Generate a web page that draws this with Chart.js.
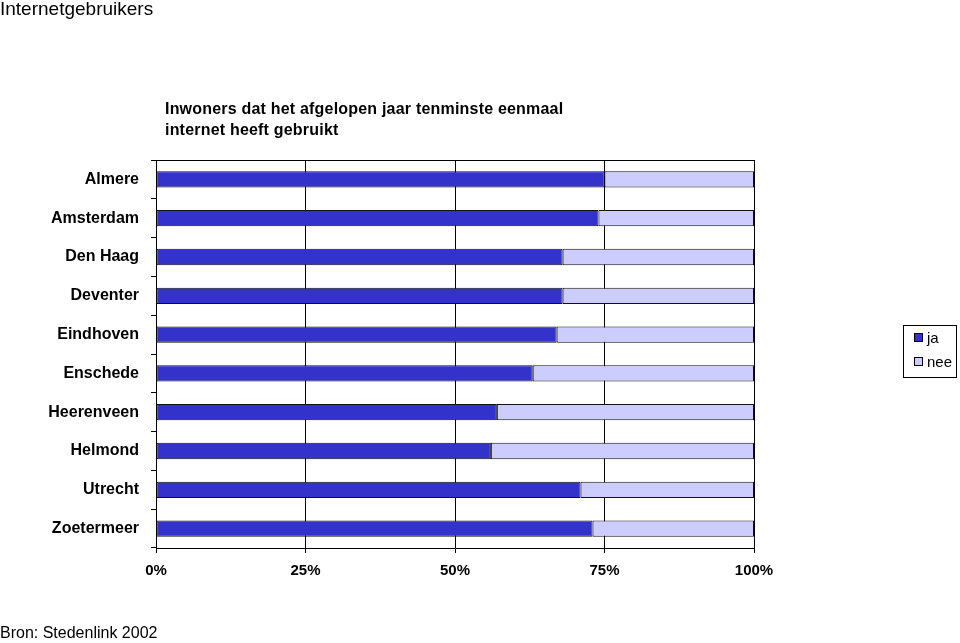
<!DOCTYPE html>
<html>
<head>
<meta charset="utf-8">
<script src="https://cdn.jsdelivr.net/npm/chart.js@4/dist/chart.umd.min.js"></script>
<style>
  html, body { margin: 0; padding: 0; background: #fff; }
  body { width: 960px; height: 643px; position: relative; overflow: hidden; font-family: "Liberation Sans", Arial, sans-serif; }
  #wrap { position: absolute; left: 0; top: 0; width: 960px; height: 643px; }
  .txt { position: absolute; color: #000; white-space: nowrap; }
  #pageTitle { left: 0; top: -2px; font-size: 19px; }
  #chartTitle { left: 165px; top: 98px; font-size: 16px; font-weight: bold; line-height: 21px; letter-spacing: 0.2px; }
  #source { left: 0; top: 624px; font-size: 16px; }
  #legend { position: absolute; left: 903px; top: 325px; width: 52px; height: 51px; border: 1px solid #000; font-size: 15px; }
  .li { position: absolute; left: 10px; height: 18px; line-height: 18px; }
  .sw { display: inline-block; width: 7px; height: 7px; border: 1px solid #000; margin-right: 4px; vertical-align: 1px; }
</style>
</head>
<body>
<div id="wrap"><canvas id="c" width="960" height="643"></canvas></div>
<div class="txt" id="pageTitle">Internetgebruikers</div>
<div class="txt" id="chartTitle">Inwoners dat het afgelopen jaar tenminste eenmaal<br>internet heeft gebruikt</div>
<div class="txt" id="source">Bron: Stedenlink 2002</div>
<div id="legend"></div>
<script>
const categories = ["Almere", "Amsterdam", "Den Haag", "Deventer", "Eindhoven", "Enschede", "Heerenveen", "Helmond", "Utrecht", "Zoetermeer"];
const jaValues  = [75, 74, 68, 68, 67, 63, 57, 56, 71, 73];
const neeValues = [25, 26, 32, 32, 33, 37, 43, 44, 29, 27];
const seriesNames = ["ja", "nee"];
const seriesColors = ["#3333CC", "#CCCCFF"];
const xTicks = [0, 25, 50, 75, 100];

const legendEl = document.getElementById('legend');
seriesNames.forEach((n, i) => {
  const d = document.createElement('div');
  d.className = 'li';
  d.style.top = (i === 0 ? 3 : 27) + 'px';
  d.innerHTML = '<span class="sw" style="background:' + seriesColors[i] + '"></span>' + n;
  legendEl.appendChild(d);
});

const topLine = {
  id: 'topLine',
  afterDraw(chart) {
    const a = chart.chartArea, ctx = chart.ctx;
    ctx.save();
    ctx.strokeStyle = '#000';
    ctx.lineWidth = 1;
    ctx.beginPath();
    ctx.moveTo(a.left, Math.round(a.top) + 0.5);
    ctx.lineTo(a.right + 0.5, Math.round(a.top) + 0.5);
    ctx.stroke();
    ctx.restore();
  }
};

new Chart(document.getElementById('c'), {
  type: 'bar',
  data: {
    labels: categories,
    datasets: [
      { label: seriesNames[0], data: jaValues, backgroundColor: seriesColors[0], borderColor: '#111', borderWidth: 1, borderSkipped: false, barPercentage: 0.42, categoryPercentage: 1 },
      { label: seriesNames[1], data: neeValues, backgroundColor: seriesColors[1], borderColor: '#111', borderWidth: 1, borderSkipped: false, barPercentage: 0.42, categoryPercentage: 1 }
    ]
  },
  options: {
    indexAxis: 'y',
    responsive: false,
    animation: false,
    layout: { padding: { left: 0, top: 160, right: 206, bottom: 0 } },
    plugins: { legend: { display: false }, title: { display: false }, tooltip: { enabled: false } },
    scales: {
      x: {
        stacked: true,
        min: 0, max: 100,
        afterBuildTicks(scale) { scale.ticks = xTicks.map(v => ({ value: v })); },
        afterFit(scale) { scale.height = 95; },
        ticks: { callback: v => v + '%', color: '#000', font: { family: 'Liberation Sans', size: 15, weight: 'bold' }, padding: 9, maxRotation: 0 },
        grid: { color: '#000', lineWidth: 1, drawTicks: true, tickLength: 5 },
        border: { display: true, color: '#000', width: 1 }
      },
      y: {
        stacked: true,
        offset: true,
        afterFit(scale) { scale.width = 156; },
        ticks: { color: '#000', font: { family: 'Liberation Sans', size: 16, weight: 'bold' }, padding: 12 },
        grid: { offset: true, drawOnChartArea: false, drawTicks: true, tickLength: 5, color: '#000' },
        border: { display: true, color: '#000', width: 1 }
      }
    }
  },
  plugins: [topLine]
});
</script>
</body>
</html>
